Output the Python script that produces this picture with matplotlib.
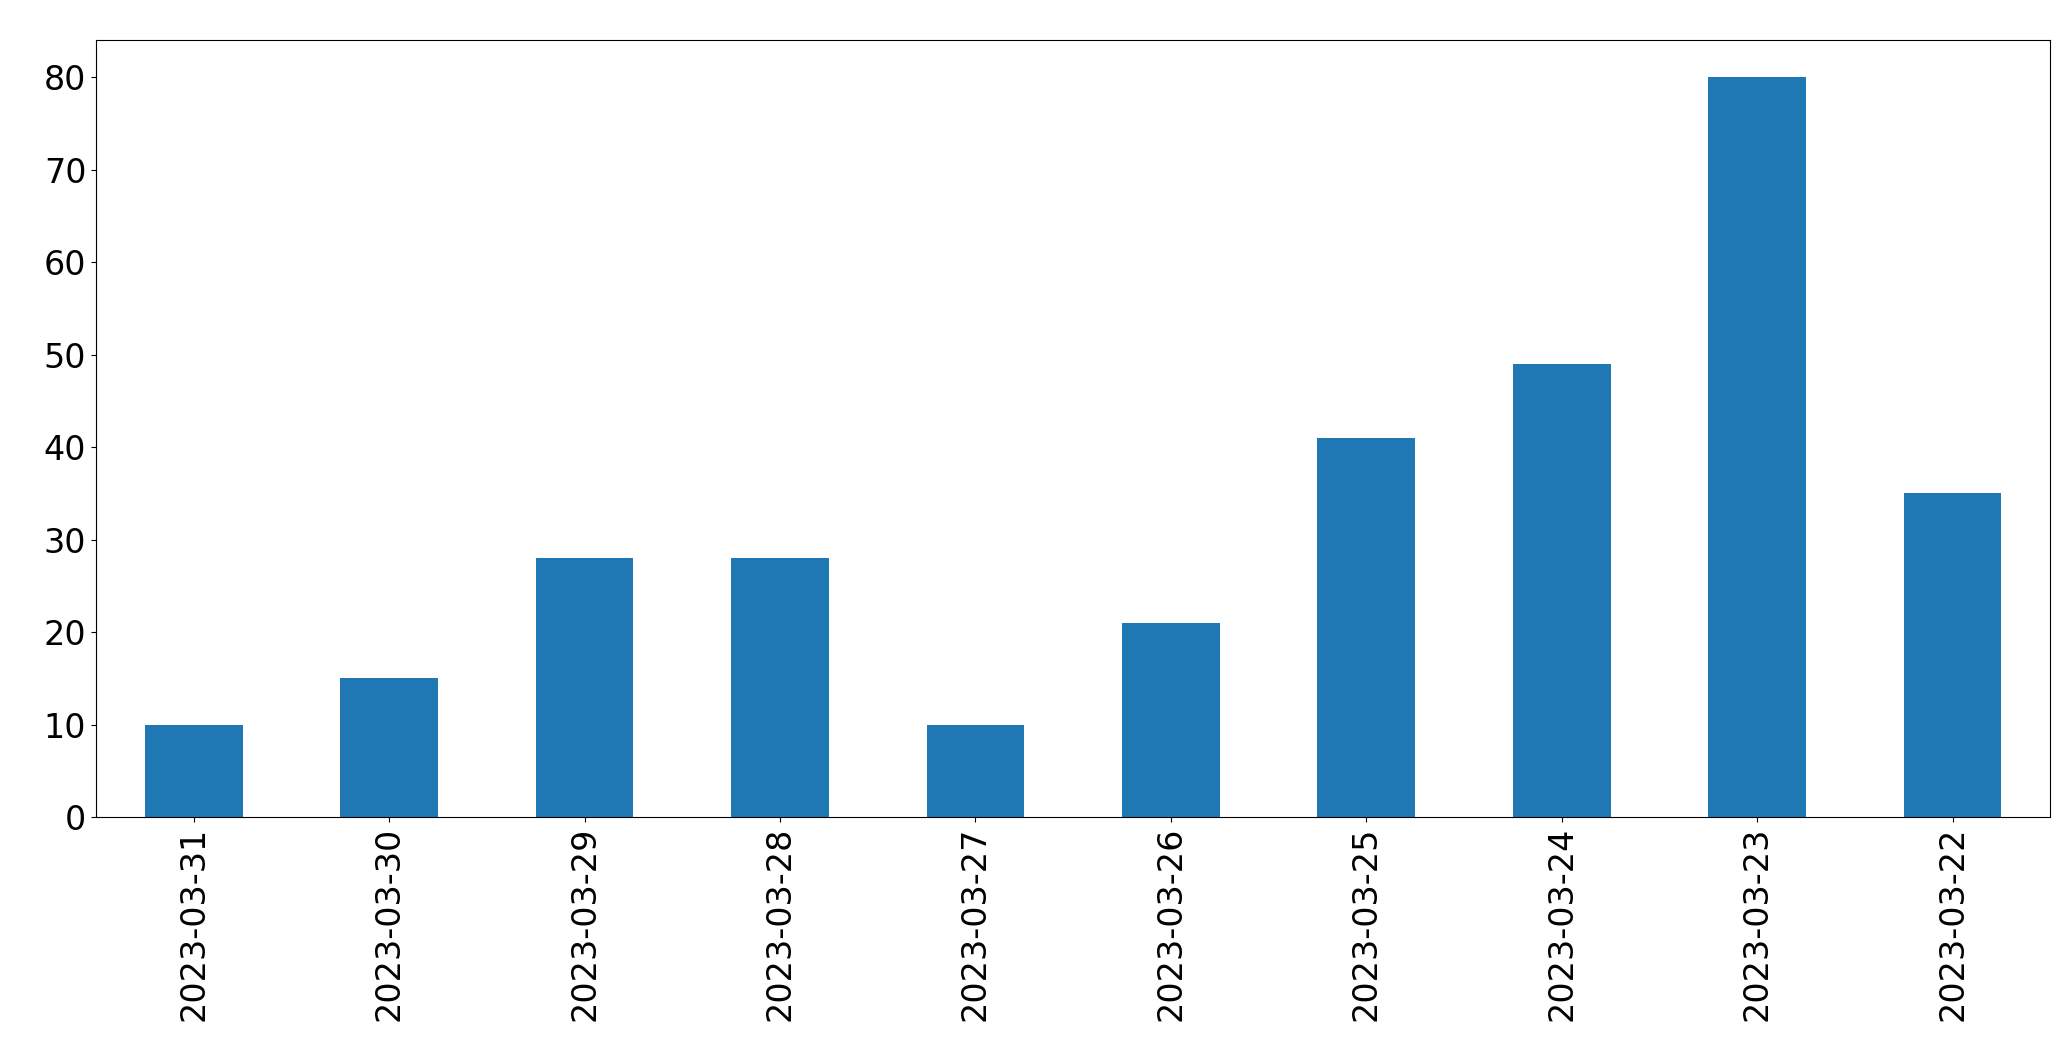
import matplotlib
matplotlib.use("Agg")
import matplotlib.pyplot as plt

dates = ["2023-03-31","2023-03-30","2023-03-29","2023-03-28","2023-03-27",
         "2023-03-26","2023-03-25","2023-03-24","2023-03-23","2023-03-22"]
counts = [10, 15, 28, 28, 10, 21, 41, 49, 80, 35]

fig = plt.figure(figsize=(20.71, 10.61), dpi=100)
ax = fig.add_axes([0.0464, 0.230, 0.9436, 0.732])
x = range(len(dates))
ax.bar(x, counts, width=0.5, color="#1f77b4")
ax.set_xlim(-0.5, len(dates) - 0.5)
ax.set_xticks(list(x))
ax.set_xticklabels(dates, rotation=90)
ax.tick_params(labelsize=24)
fig.savefig("out.png", dpi=100)
